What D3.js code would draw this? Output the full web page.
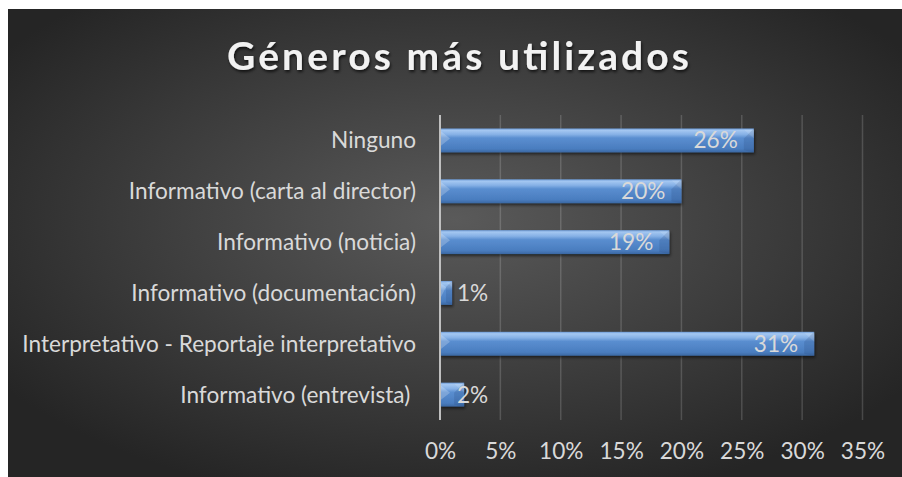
<!DOCTYPE html>
<html>
<head>
<meta charset="utf-8">
<script src="https://cdn.jsdelivr.net/npm/d3@7"></script>
<style>
  body { margin: 0; background: #fff; }
  svg { display: block; }
</style>
</head>
<body>
<svg id="chart" width="902" height="477"></svg>
<script>
// data (top to bottom)
var categories = ["Ninguno", "Informativo (carta al director)", "Informativo (noticia)",
  "Informativo (documentación)", "Interpretativo - Reportaje interpretativo", "Informativo (entrevista) "];
var values = [0.26, 0.20, 0.19, 0.01, 0.31, 0.02];
var tickValues = [0, 0.05, 0.10, 0.15, 0.20, 0.25, 0.30, 0.35];
var title = "Géneros más utilizados";

var svg = d3.select("#chart"),
    margin = {top: 115, right: 40, bottom: 57, left: 440},
    width = 862.5 - margin.left,
    height = 420 - margin.top;

var defs = svg.append("defs");

// background gradient
var bg = defs.append("radialGradient").attr("id", "bg")
    .attr("cx", "50%").attr("cy", "45%").attr("r", "62%");
bg.append("stop").attr("offset", "0%").attr("stop-color", "#5a5a5a");
bg.append("stop").attr("offset", "100%").attr("stop-color", "#252525");

// bar gradient
var bar = defs.append("linearGradient").attr("id", "bar")
    .attr("x1", 0).attr("y1", 0).attr("x2", 0).attr("y2", 1);
[["0%", "#6c9ad6"], ["8%", "#a4c7f1"], ["25%", "#86b1e6"], ["40%", "#5a8ed0"],
 ["85%", "#4a7dbf"], ["100%", "#3b68a3"]].forEach(function(s) {
  bar.append("stop").attr("offset", s[0]).attr("stop-color", s[1]);
});

var shadow = defs.append("filter").attr("id", "shadow")
    .attr("x", "-10%").attr("y", "-30%").attr("width", "130%").attr("height", "180%");
shadow.append("feDropShadow").attr("dx", 1).attr("dy", 2).attr("stdDeviation", 1.5)
    .attr("flood-color", "#000").attr("flood-opacity", 0.55);

var tshadow = defs.append("filter").attr("id", "tshadow")
    .attr("x", "-10%").attr("y", "-30%").attr("width", "120%").attr("height", "180%");
tshadow.append("feDropShadow").attr("dx", 1).attr("dy", 2).attr("stdDeviation", 1.5)
    .attr("flood-color", "#000").attr("flood-opacity", 0.7);

svg.append("rect")
    .attr("x", 8).attr("y", 9).attr("width", 894).attr("height", 468)
    .attr("fill", "url(#bg)");

var font = "Lato, 'Open Sans', sans-serif";

// fit label size so the longest label is about as wide as in the picture
var probe = svg.append("text").attr("font-family", font).attr("font-size", 23)
    .text(categories[4]);
var fs = 23 * 394 / probe.node().getComputedTextLength();
probe.remove();

// title
svg.append("text")
    .attr("x", 458).attr("y", 70)
    .attr("text-anchor", "middle")
    .attr("font-family", font).attr("font-weight", "bold").attr("font-size", 39)
    .attr("fill", "#f2f2f2")
    .attr("textLength", 462).attr("lengthAdjust", "spacing")
    .attr("filter", "url(#tshadow)")
    .text(title);

var g = svg.append("g").attr("transform", "translate(" + margin.left + "," + margin.top + ")");

var x = d3.scaleLinear().domain([0, 0.35]).range([0, width]);
var y = d3.scaleBand().domain(categories).range([0, height]).paddingInner(0.53).paddingOuter(0.265);

// gridlines
g.append("g")
  .selectAll("line")
  .data(tickValues.slice(1))
  .enter().append("line")
    .attr("x1", function(d) { return x(d); })
    .attr("x2", function(d) { return x(d); })
    .attr("y1", 0).attr("y2", height)
    .attr("stroke", "rgba(255,255,255,0.16)")
    .attr("stroke-width", 1.5);

// x axis (labels only)
var xAxis = g.append("g")
    .attr("transform", "translate(0," + height + ")")
    .call(d3.axisBottom(x).tickValues(tickValues).tickFormat(d3.format(".0%")).tickSize(0).tickPadding(23));
xAxis.select(".domain").remove();
xAxis.selectAll("text")
    .attr("font-family", font).attr("font-size", fs).attr("fill", "#d9d9d9");

// bars
var bw = y.bandwidth();
var bars = g.append("g").selectAll("g")
  .data(values)
  .enter().append("g")
    .attr("filter", "url(#shadow)");

bars.append("rect")
    .attr("x", x(0))
    .attr("y", function(d, i) { return y(categories[i]); })
    .attr("width", function(d) { return x(d) - x(0); })
    .attr("height", bw)
    .attr("fill", "url(#bar)");

// bevelled ends: light wedge on the left, shaded cap on the right
bars.append("path")
    .attr("d", function(d, i) {
      var x0 = x(0), y0 = y(categories[i]), b = Math.min(10, (x(d) - x0) / 2);
      return "M" + x0 + "," + (y0 + 2) + "L" + (x0 + b) + "," + (y0 + b) +
        "L" + x0 + "," + (y0 + bw * 0.75) + "Z";
    })
    .attr("fill", "#fff").attr("opacity", 0.22);

bars.append("path")
    .attr("d", function(d, i) {
      var x1 = x(d), y0 = y(categories[i]), b = Math.min(10, (x1 - x(0)) / 2);
      return "M" + x1 + "," + y0 + "L" + (x1 - b) + "," + (y0 + b) + "L" + (x1 - b) + "," + (y0 + bw - 2) +
        "L" + x1 + "," + (y0 + bw) + "Z";
    })
    .attr("fill", "#1f3f70").attr("opacity", 0.18);

bars.append("path")
    .attr("d", function(d, i) {
      var x1 = x(d), y0 = y(categories[i]), b = Math.min(10, (x1 - x(0)) / 2);
      return "M" + x1 + "," + (y0 + 1) + "L" + (x1 - b) + "," + (y0 + 1) + "L" + x1 + "," + (y0 + b) + "Z";
    })
    .attr("fill", "#fff").attr("opacity", 0.12);

// axis line
g.append("line")
    .attr("x1", x(0)).attr("x2", x(0))
    .attr("y1", 0).attr("y2", height)
    .attr("stroke", "#bfbfbf").attr("stroke-width", 2);

// category labels
g.append("g").selectAll("text")
  .data(categories)
  .enter().append("text")
    .attr("x", -24)
    .attr("y", function(d) { return y(d) + bw / 2; })
    .attr("dy", "0.35em")
    .attr("text-anchor", "end")
    .attr("xml:space", "preserve")
    .style("white-space", "pre")
    .attr("font-family", font).attr("font-size", fs).attr("fill", "#d9d9d9")
    .text(function(d) { return d; });

// value labels
g.append("g").selectAll("text")
  .data(values)
  .enter().append("text")
    .attr("y", function(d, i) { return y(categories[i]) + bw / 2; })
    .attr("dy", "0.35em")
    .attr("font-family", font).attr("font-size", fs).attr("fill", "#d9d9d9")
    .text(function(d) { return d3.format(".0%")(d); })
    .each(function(d) {
      var t = d3.select(this), w = this.getComputedTextLength();
      var xs = x(d) - 16 - w;
      t.attr("x", Math.max(xs, x(0) + 17));
    });
</script>
</body>
</html>
